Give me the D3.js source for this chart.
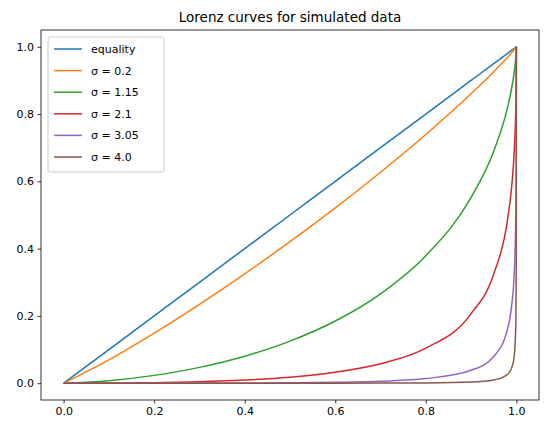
<!DOCTYPE html><html><head><meta charset="utf-8"><script src="https://cdn.jsdelivr.net/npm/d3@7"></script>
<style>body{margin:0;background:#fff}</style></head><body><svg id="c" width="547" height="434"></svg>
<script>
const p = [0,0.1,0.2,0.3,0.4,0.5,0.6,0.7,0.8,0.9,0.95,0.98,0.99,0.995,0.999,0.9999,1];
const labels = ["equality","σ = 0.2","σ = 1.15","σ = 2.1","σ = 3.05","σ = 4.0"];
const colors = ["#1f77b4","#ff7f0e","#2ca02c","#d62728","#9467bd","#8c564b"];
const equality = p.slice();
const s020 = [0,0.0692,0.1488,0.2344,0.3252,0.4207,0.5213,0.6272,0.7394,0.8603,0.9258,0.9681,0.9833,0.9912,0.9981,0.9998,1];
const s115 = [0,0.0075,0.0232,0.0470,0.0803,0.1251,0.1849,0.2658,0.3789,0.5523,0.6897,0.8169,0.8803,0.9230,0.9738,0.9949,1];
const s210 = [0,0.0004,0.0016,0.0043,0.0093,0.0179,0.0324,0.0576,0.1041,0.2066,0.3245,0.4815,0.5895,0.6829,0.8389,0.9473,1];
const s305 = [0,0.00001,0.00005,0.00018,0.0005,0.0011,0.0026,0.0057,0.0136,0.0384,0.0793,0.1587,0.2358,0.3192,0.516,0.748,1];
const s400 = [0,0,0,0,0.00001,0.00003,0.0001,0.0003,0.0009,0.0033,0.0092,0.0257,0.047,0.077,0.181,0.39,1];
const series = [equality,s020,s115,s210,s305,s400];
const xTicks=[0,0.2,0.4,0.6,0.8,1.0], yTicks=[0,0.2,0.4,0.6,0.8,1.0];
const svg=d3.select("#c");
const L=41,R=539,T=30,B=400;
const x=d3.scaleLinear().domain([-0.05,1.05]).range([L,R]);
const y=d3.scaleLinear().domain([-0.05,1.05]).range([B,T]);
const ff="DejaVu Sans, sans-serif";
const line=d3.line().x(d=>x(d[0])).y(d=>y(d[1])).curve(d3.curveMonotoneX);
series.forEach((s,i)=>svg.append("path").attr("d",line(p.map((v,j)=>[v,s[j]]))).attr("fill","none").attr("stroke",colors[i]).attr("stroke-width",1.5));
svg.append("rect").attr("x",L).attr("y",T).attr("width",R-L).attr("height",B-T).attr("fill","none").attr("stroke","#000").attr("stroke-width",0.8);
const xa=svg.append("g").attr("transform",`translate(0,${B})`).call(d3.axisBottom(x).tickValues(xTicks).tickFormat(d3.format(".1f")).tickSize(3.5).tickPadding(3.5));
const ya=svg.append("g").attr("transform",`translate(${L},0)`).call(d3.axisLeft(y).tickValues(yTicks).tickFormat(d3.format(".1f")).tickSize(3.5).tickPadding(3.5));
[xa,ya].forEach(a=>{a.select(".domain").remove();a.selectAll("text").attr("font-family",ff).attr("font-size",11).attr("fill","#000");a.selectAll("line").attr("stroke","#000").attr("stroke-width",0.8);});
svg.append("text").attr("x",(L+R)/2).attr("y",T-8).attr("text-anchor","middle").attr("font-family",ff).attr("font-size",13.5).text("Lorenz curves for simulated data");
const lg=svg.append("g").attr("transform",`translate(${L+7},${T+7})`);
lg.append("rect").attr("width",116).attr("height",135).attr("rx",2).attr("fill","#fff").attr("fill-opacity",0.8).attr("stroke","#ccc");
labels.forEach((t,i)=>{const yy=12+i*21.6;
lg.append("line").attr("x1",6).attr("x2",34).attr("y1",yy).attr("y2",yy).attr("stroke",colors[i]).attr("stroke-width",1.5);
lg.append("text").attr("x",43).attr("y",yy+4).attr("font-family",ff).attr("font-size",11).text(t);});
</script></body></html>
